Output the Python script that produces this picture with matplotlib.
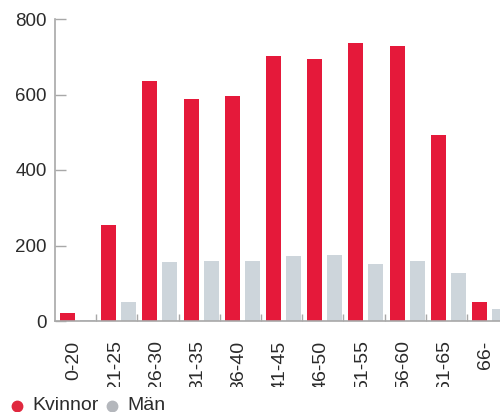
import matplotlib
matplotlib.use("Agg")
import matplotlib.pyplot as plt
from matplotlib.lines import Line2D
from matplotlib.transforms import Bbox, TransformedBbox
import numpy as np

categories = ["0-20", "21-25", "26-30", "31-35", "36-40", "41-45",
              "46-50", "51-55", "56-60", "61-65", "66-"]
kvinnor = [22, 254, 637, 588, 596, 702, 694, 736, 728, 493, 50]
man = [3, 51, 156, 160, 160, 172, 175, 151, 159, 127, 32]
series_names = ["Kvinnor", "Män"]
yticks = [0, 200, 400, 600, 800]

RED = "#E5193A"
GREY = "#CDD5DB"
DOT_RED = "#E0283E"
DOT_GREY = "#B4B7BC"
TXT = "#2b2b2b"
AXC = "#a8a8a8"

plt.rcParams['font.family'] = ['Liberation Sans', 'DejaVu Sans']

W, H = 500, 412
fig = plt.figure(figsize=(W / 100, H / 100), dpi=100)
ax = fig.add_axes([55 / W, (H - 321) / H, (W - 55) / W, (321 - 19) / H])

x = np.arange(len(categories))
bw = 0.364
ax.bar(x + 0.121, kvinnor, width=bw, align='edge', color=RED, zorder=2)
ax.bar(x + 0.607, man, width=bw, align='edge', color=GREY, zorder=2)

ax.set_xlim(0, 10.8)
ax.set_ylim(0, 800)

for s in ["top", "right"]:
    ax.spines[s].set_visible(False)
for s in ["left", "bottom"]:
    ax.spines[s].set_color(AXC)
    ax.spines[s].set_linewidth(1.2)

ax.set_yticks(yticks)
ax.set_yticklabels([str(v) for v in yticks])
ax.tick_params(axis='y', direction='in', length=8, width=1, color=AXC,
               pad=6, labelsize=13.5, labelcolor=TXT)

ax.set_xticks(x + 0.46)
ax.set_xticklabels(categories, rotation=90)
ax.tick_params(axis='x', which='major', length=0, pad=14, labelsize=14,
               labelcolor=TXT)
ax.set_xticks(np.arange(1, len(categories)), minor=True)
ax.tick_params(axis='x', which='minor', direction='in', length=5, width=1,
               color=AXC)

clip = TransformedBbox(Bbox([[0, (H - 387) / H], [1, 1]]), fig.transFigure)
for lab in ax.get_xticklabels():
    lab.set_clip_box(clip)
    lab.set_clip_on(True)

# legend
fig.add_artist(Line2D([16.7 / W], [(H - 406) / H], marker='o', markersize=7.5,
                      color=DOT_RED, linestyle='none', transform=fig.transFigure))
fig.text(32 / W, 1.5 / H, series_names[0], fontsize=14, color=TXT,
         va='baseline', ha='left')
fig.add_artist(Line2D([112 / W], [(H - 406) / H], marker='o', markersize=7.5,
                      color=DOT_GREY, linestyle='none', transform=fig.transFigure))
fig.text(127 / W, 1.5 / H, series_names[1], fontsize=14, color=TXT,
         va='baseline', ha='left')

fig.savefig("out.png", dpi=100)
